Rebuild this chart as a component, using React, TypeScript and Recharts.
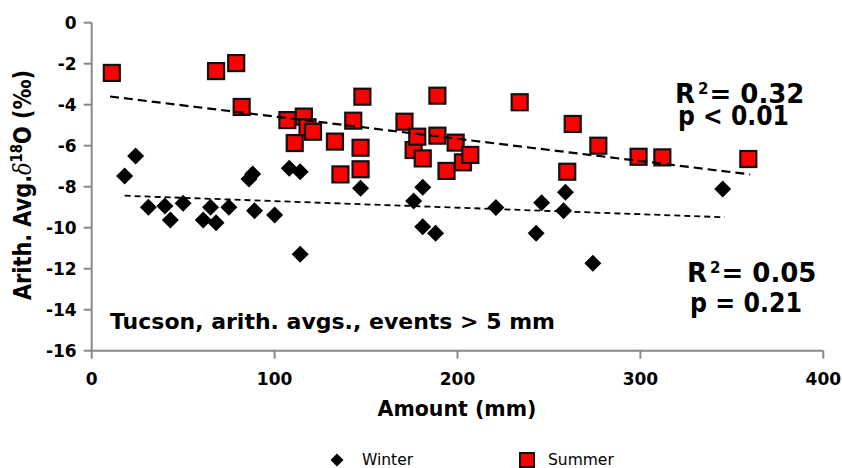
import { ScatterChart, Scatter, XAxis, YAxis, Legend } from 'recharts'

// values (Tucson, events > 5 mm)
const winterAmount = [18, 24, 31, 40, 43, 50, 61, 65, 68, 75, 86, 88, 89, 100, 108, 114, 114, 147, 176, 181, 181, 188, 221, 243, 246, 258, 259, 274, 345]
const winterO18 = [-7.48, -6.5, -9.0, -8.94, -9.62, -8.81, -9.62, -9.0, -9.76, -9.0, -7.62, -7.38, -9.17, -9.38, -7.1, -7.27, -11.3, -8.08, -8.7, -8.03, -9.95, -10.27, -9.02, -10.27, -8.78, -9.17, -8.27, -11.74, -8.11]

const summerAmount = [11, 68, 79, 82, 107, 111, 116, 118, 121, 133, 136, 143, 147, 147, 148, 171, 176, 178, 181, 189, 189, 194, 199, 203, 207, 234, 260, 263, 277, 299, 312, 359]
const summerO18 = [-2.45, -2.36, -1.97, -4.11, -4.75, -5.87, -4.58, -5.1, -5.32, -5.8, -7.4, -4.78, -6.1, -7.15, -3.61, -4.83, -6.21, -5.56, -6.62, -3.56, -5.51, -7.23, -5.85, -6.81, -6.45, -3.88, -7.27, -4.94, -6.0, -6.54, -6.57, -6.65]

// trend line end points
const summerTrendX = [10, 360]
const summerTrendY = [-3.6, -7.4]
const winterTrendX = [18, 346]
const winterTrendY = [-8.44, -9.49]

const xTicks = [0, 100, 200, 300, 400]
const yTicks = [0, -2, -4, -6, -8, -10, -12, -14, -16]

const FONT = '"DejaVu Sans", sans-serif'

const toPoints = (xs: number[], ys: number[]) => xs.map((x, i) => ({ x, y: ys[i] }))

const winterData = toPoints(winterAmount, winterO18)
const summerData = toPoints(summerAmount, summerO18)
const summerTrend = toPoints(summerTrendX, summerTrendY)
const winterTrend = toPoints(winterTrendX, winterTrendY)

const Diamond = (props: any) => {
	const { cx, cy } = props
	const r = 8.5
	return <path d={`M${cx},${cy - r}L${cx + r},${cy}L${cx},${cy + r}L${cx - r},${cy}Z`} fill='#000' />
}

const Square = (props: any) => {
	const { cx, cy } = props
	const s = 16
	return <rect x={cx - s / 2} y={cy - s / 2} width={s} height={s} fill='#ff0000' stroke='#111' strokeWidth={2.2} />
}

const NoShape = () => <g />

const LegendContent = () => (
	<svg width={842} height={28} style={{ display: 'block' }}>
		<path d='M337,13.5L343.5,20L337,26.5L330.5,20Z' fill='#000' />
		<text x={362} y={25} fontSize={15.5} fontFamily={FONT} fill='#000'>
			Winter
		</text>
		<rect x={520} y={13} width={14} height={14} fill='#ff0000' stroke='#111' strokeWidth={2} />
		<text x={548} y={25} fontSize={15.5} fontFamily={FONT} fill='#000'>
			Summer
		</text>
	</svg>
)

const tickStyle = { fill: '#000', fontSize: 17, fontWeight: 700, fontFamily: FONT }
const axisStyle = { stroke: '#888', strokeWidth: 2 }

const RSquared = ({ x, y, value }: { x: number; y: number; value: string }) => (
	<text x={x} y={y} fontSize={26} fontWeight={700} fontFamily={FONT} fill='#000'>
		<tspan>R</tspan>
		<tspan fontSize={15} dx={3} dy={-9}>2</tspan>
		<tspan dx={1} dy={9}>= {value}</tspan>
	</text>
)

export default function App() {
	return (
		<div style={{ position: 'absolute', left: 0, top: 0, width: 842, height: 468, background: '#fff' }}>
			<ScatterChart width={842} height={468} margin={{ top: 22.7, right: 18.7, left: 31.7, bottom: 87.3 }}>
				<XAxis
					type='number'
					dataKey='x'
					domain={[0, 400]}
					ticks={xTicks}
					height={30}
					tickSize={8}
					tickMargin={14}
					axisLine={axisStyle}
					tickLine={axisStyle}
					tick={tickStyle}
				/>
				<YAxis
					type='number'
					dataKey='y'
					domain={[-16, 0]}
					ticks={yTicks}
					width={60}
					tickSize={8}
					tickMargin={7}
					axisLine={axisStyle}
					tickLine={axisStyle}
					tick={tickStyle}
				/>
				<Legend
					verticalAlign='middle'
					align='center'
					layout='horizontal'
					wrapperStyle={{ top: 440, left: 0, width: 842, height: 28 }}
					content={LegendContent}
				/>
				<Scatter name='Winter' data={winterData} shape={Diamond} isAnimationActive={false} />
				<Scatter name='Summer' data={summerData} shape={Square} isAnimationActive={false} />
				<Scatter
					data={summerTrend}
					shape={NoShape}
					line={{ stroke: '#000', strokeWidth: 2.2, strokeDasharray: '9 5' }}
					legendType='none'
					isAnimationActive={false}
				/>
				<Scatter
					data={winterTrend}
					shape={NoShape}
					line={{ stroke: '#000', strokeWidth: 1.8, strokeDasharray: '6 4' }}
					legendType='none'
					isAnimationActive={false}
				/>

				{/* axis titles */}
				<text x={457} y={416} textAnchor='middle' fontSize={20.5} fontWeight={700} fontFamily={FONT} fill='#000'>
					Amount (mm)
				</text>
				<text
					transform='translate(31,185) rotate(-90)'
					textAnchor='middle'
					fontSize={25}
					fontWeight={700}
					fontFamily={FONT}
					fill='#000'
					textLength={230}
					lengthAdjust='spacingAndGlyphs'
				>
					<tspan>Arith. Avg.</tspan>
					<tspan fontWeight={400} fontFamily='"DejaVu Serif", serif' fontStyle='italic'>δ</tspan>
					<tspan fontSize={16} dy={-9}>18</tspan>
					<tspan dy={9}>O (‰)</tspan>
				</text>

				{/* annotations */}
				<text x={110} y={329} fontSize={22} fontWeight={700} fontFamily={FONT} fill='#000' textLength={445} lengthAdjust='spacingAndGlyphs'>
					Tucson, arith. avgs., events &gt; 5 mm
				</text>
				<RSquared x={675} y={103} value='0.32' />
				<text x={678} y={125} fontSize={26} fontWeight={700} fontFamily={FONT} fill='#000' textLength={111} lengthAdjust='spacingAndGlyphs'>
					p &lt; 0.01
				</text>
				<RSquared x={687} y={282} value='0.05' />
				<text x={690} y={312} fontSize={26} fontWeight={700} fontFamily={FONT} fill='#000' textLength={112} lengthAdjust='spacingAndGlyphs'>
					p = 0.21
				</text>
			</ScatterChart>
		</div>
	)
}
